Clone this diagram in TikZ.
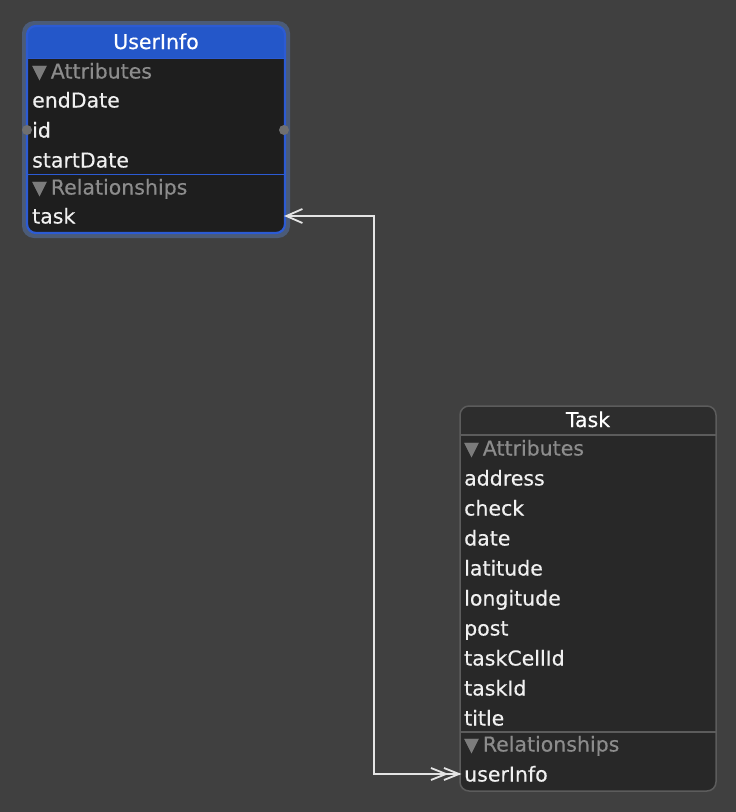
\documentclass[tikz,border=0pt]{standalone}
\usepackage{fontspec}
\setmainfont{DejaVu Sans}
\newfontfamily\lblfont{DejaVu Sans}[FakeBold=0.35]
\usetikzlibrary{calc}
\definecolor{bgc}{HTML}{404040}
\definecolor{halo}{HTML}{4B5B78}
\definecolor{selblue}{HTML}{2C5BD4}
\definecolor{titleblue}{HTML}{2457C9}
\definecolor{uibody}{HTML}{1E1E1E}
\definecolor{tbody}{HTML}{282828}
\definecolor{thead}{HTML}{2D2D2D}
\definecolor{tborder}{HTML}{5C5C5C}
\definecolor{sechead}{HTML}{8C8C8C}
\definecolor{tricol}{HTML}{7C7C7C}
\definecolor{rowtext}{HTML}{F0F0F0}
\definecolor{conncol}{HTML}{E4E4E4}
\definecolor{dotcol}{HTML}{707070}
\newcommand{\tri}{{\color{tricol}\fontsize{19}{19}\selectfont\raisebox{0.5pt}{▼}}\hspace{4pt}}
\tikzset{
  rowlbl/.style={anchor=base west, inner sep=0pt, text=rowtext, font=\lblfont\fontsize{20.5}{21}\selectfont},
  seclbl/.style={anchor=base west, inner sep=0pt, text=sechead, font=\lblfont\fontsize{20.5}{21}\selectfont},
  ttl/.style={anchor=base, inner sep=0pt, text=white, font=\lblfont\fontsize{20.5}{21}\selectfont},
  conn/.style={draw=conncol, line width=1.8pt},
  portdot/.style={circle, fill=dotcol, inner sep=0pt, minimum size=10pt},
  boxnode/.style={anchor=north west, inner sep=0pt, rounded corners=9pt}
}
\begin{document}
\begin{tikzpicture}[x=1pt,y=-1pt]
\fill[bgc] (0,0) rectangle (736,812);
\useasboundingbox (0,0) rectangle (736,812);

% ---------- UserInfo entity ----------
\fill[halo, rounded corners=12pt] (22,21) rectangle (290,238);
\node[boxnode, fill=uibody, minimum width=258pt, minimum height=207pt] (ui) at (27,26) {};
\begin{scope}
  \clip[rounded corners=9pt] (27,26) rectangle (285,233);
  \fill[titleblue] (27,26) rectangle (285,58);
\end{scope}
\draw[selblue, line width=1.2pt] (28,58.5) -- (284,58.5);
\draw[selblue, line width=1.6pt] (28,174.5) -- (284,174.5);
\draw[selblue, line width=2.2pt, rounded corners=9pt] (27,26) rectangle (285,233);

\node[ttl] (uiTitle) at (156,49) {UserInfo};
\node[seclbl] (uiAttr) at (32,78.5) {\tri Attributes};
\node[rowlbl] (uiEnd) at (32,107.5) {endDate};
\node[rowlbl] (uiId) at (32,137.5) {id};
\node[rowlbl] (uiStart) at (32,167.5) {startDate};
\node[seclbl] (uiRel) at (32,194.5) {\tri Relationships};
\node[rowlbl] (uiTask) at (32,223.5) {task};

\node[portdot] (dotL) at (27,130) {};
\node[portdot] (dotR) at (284,130) {};

% ---------- Task entity ----------
\node[boxnode, fill=tbody, minimum width=256pt, minimum height=385pt] (tk) at (460,406) {};
\begin{scope}
  \clip[rounded corners=9pt] (460,406) rectangle (716,791);
  \fill[thead] (460,406) rectangle (716,435);
\end{scope}
\draw[tborder, line width=1.4pt] (460,435) -- (716,435);
\draw[tborder, line width=1.4pt] (460,732) -- (716,732);
\draw[tborder, line width=1.5pt, rounded corners=9pt] (460,406) rectangle (716,791);

\node[ttl] (tkTitle) at (588,427) {Task};
\node[seclbl] (tkAttr) at (464,455.5) {\tri Attributes};
\node[rowlbl] (tkAddress) at (464,485.5) {address};
\node[rowlbl] (tkCheck) at (464,515.5) {check};
\node[rowlbl] (tkDate) at (464,545.5) {date};
\node[rowlbl] (tkLat) at (464,575.5) {latitude};
\node[rowlbl] (tkLon) at (464,605.5) {longitude};
\node[rowlbl] (tkPost) at (464,635.5) {post};
\node[rowlbl] (tkCell) at (464,665.5) {taskCellId};
\node[rowlbl] (tkTaskId) at (464,695.5) {taskId};
\node[rowlbl] (tkTitleRow) at (464,725.5) {title};
\node[seclbl] (tkRel) at (464,751.5) {\tri Relationships};
\node[rowlbl] (tkUser) at (464,781.5) {userInfo};

% ---------- relationship connector ----------
\coordinate (pA) at (ui.east |- 0,216);
\coordinate (pB) at (tk.west |- 0,774);
\coordinate (bend1) at (374,216);
\coordinate (bend2) at (374,774);
\draw[conn] ($(pA)+(1,0)$) -- (bend1) -- (bend2) -- (pB);
% to-one arrow at UserInfo
\draw[conn, line join=miter] ($(pA)+(17,-7)$) -- ($(pA)+(1,0)$) -- ($(pA)+(17,7)$);
% to-many arrow at Task
\draw[conn, line join=miter] ($(pB)+(-16,-6)$) -- ($(pB)+(-1,0)$) -- ($(pB)+(-16,6)$);
\draw[conn, line join=miter] ($(pB)+(-29,-6)$) -- ($(pB)+(-14,0)$) -- ($(pB)+(-29,6)$);
\end{tikzpicture}
\end{document}
